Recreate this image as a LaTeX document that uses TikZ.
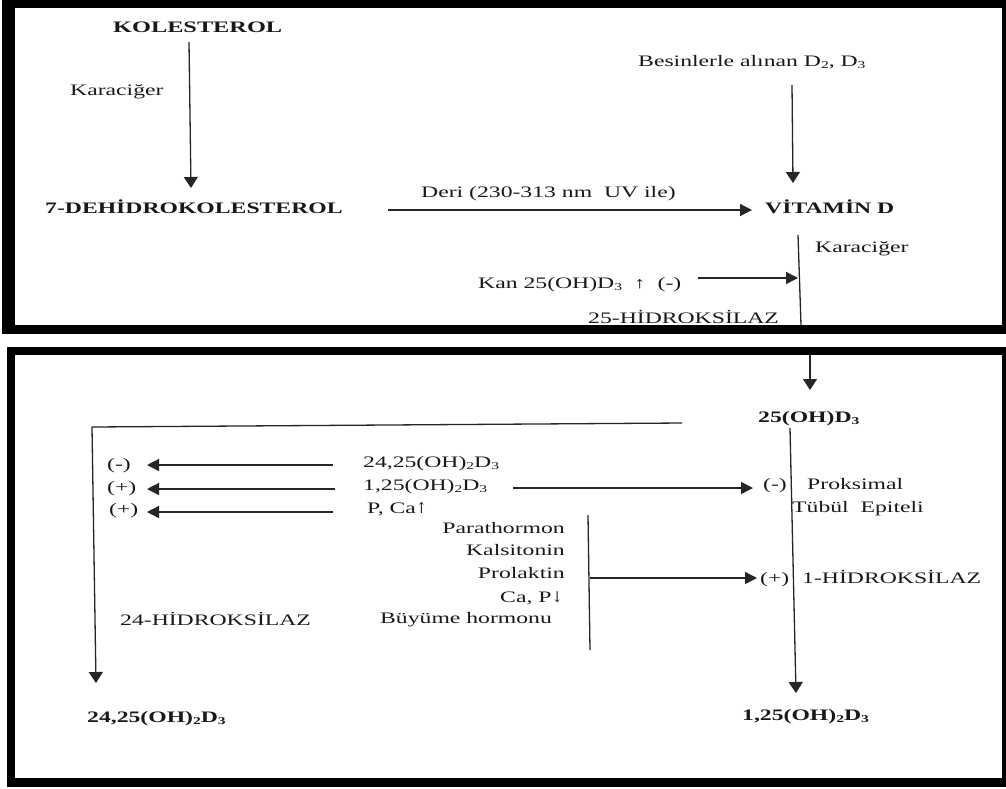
\documentclass[tikz,border=0pt]{standalone}
\usepackage{fontspec}
\setmainfont{Liberation Serif}
\newfontfamily\arrfont{DejaVu Serif}
\usetikzlibrary{arrows.meta}
\newcommand\hs[1]{\scalebox{1.48}[1]{#1}}
\newcommand\sbs[1]{\raisebox{-0.35ex}{\fontsize{10.5}{10.5}\selectfont #1}}
\newcommand\uparr{{\arrfont\fontsize{13}{13}\selectfont\scalebox{0.7}[1.15]{↑}}}
\newcommand\dnarr{{\arrfont\fontsize{13}{13}\selectfont\scalebox{0.7}[1.15]{↓}}}
\begin{document}
\begin{tikzpicture}[x=1pt,y=-1pt,
  lbl/.style={inner sep=0pt, anchor=base west, text=black!90, font=\fontsize{16}{18}\selectfont},
  lblr/.style={lbl, anchor=base east},
  bf/.style={font=\fontsize{16}{18}\selectfont\bfseries},
  ln/.style={line width=1.3pt, draw=black!85},
  arr/.style={ln, -{Triangle[length=12pt,width=12pt]}},
  varr/.style={ln, -{Triangle[length=11pt,width=14pt]}},
  framefill/.style={fill=black},
  inner/.style={fill=white}]
\useasboundingbox (0,0) rectangle (1006,788);
\fill[white] (0,0) rectangle (1006,788);
% frames
\fill[framefill] (2,0) rectangle (1006,334);
\fill[inner] (15,8) rectangle (1002,325);
\fill[framefill] (7,347) rectangle (1006,787);
\fill[inner] (15,355) rectangle (1002,778);

% ---------- top panel ----------
\node[lbl,bf] (kol) at (113,32) {\scalebox{1.52}[1]{KOLESTEROL}};
\node[lbl] (kar1) at (70,95) {\hs{Karaciğer}};
\node[lbl,bf] (dehi) at (45,213) {\hs{7-DEHİDROKOLESTEROL}};
\node[lbl] (deri) at (421,197) {\hs{Deri (230-313 nm\ \ UV ile)}};
\node[lbl] (bes) at (638,66) {\hs{Besinlerle alınan D\sbs{2}, D\sbs{3}}};
\node[lbl,bf] (vit) at (765,213) {\hs{VİTAMİN D}};
\node[lbl] (kar2) at (815,252) {\hs{Karaciğer}};
\node[lbl] (kan) at (478,288) {\hs{Kan 25(OH)D\sbs{3}\ \ ↑\ \ (-)}};
\node[lbl] (h25) at (588,323) {\hs{25-HİDROKSİLAZ}};

\coordinate (k1) at (189,42);  \coordinate (k2) at (191,188);
\coordinate (b1s) at (792,85); \coordinate (b1e) at (793,183);
\coordinate (d1) at (388,210); \coordinate (d2) at (752,210);
\coordinate (v1) at (798,235); \coordinate (v2) at (801,325);
\coordinate (kn1) at (698,278); \coordinate (kn2) at (798,278);

\draw[varr] (k1) -- (k2);
\draw[varr] (b1s) -- (b1e);
\draw[arr] (d1) -- (d2);
\draw[ln] (v1) -- (v2);
\draw[arr] (kn1) -- (kn2);

% ---------- bottom panel ----------
\node[lbl,bf] (oh25) at (758,422) {\hs{25(OH)D\sbs{3}}};
\node[lbl] (r1) at (363,467) {\hs{24,25(OH)\sbs{2}D\sbs{3}}};
\node[lbl] (r2) at (363,490) {\hs{1,25(OH)\sbs{2}D\sbs{3}}};
\node[lbl] (r3) at (367,513) {\hs{P, Ca\uparr}};
\node[lbl] (m1) at (107,469) {\hs{(-)}};
\node[lbl] (m2) at (107,492) {\hs{(+)}};
\node[lbl] (m3) at (109,514) {\hs{(+)}};
\node[lblr] (pth) at (565,533) {\hs{Parathormon}};
\node[lblr] (kal) at (565,555) {\hs{Kalsitonin}};
\node[lblr] (pro) at (565,578) {\hs{Prolaktin}};
\node[lblr] (cap) at (563,602) {\hs{Ca, P\dnarr}};
\node[lbl] (buy) at (380,623) {\hs{Büyüme hormonu}};
\node[lbl] (h24) at (120,625) {\hs{24-HİDROKSİLAZ}};
\node[lbl] (neg) at (763,489) {\hs{(-)}};
\node[lbl] (prok) at (807,489) {\hs{Proksimal}};
\node[lbl] (tub) at (792,512) {\hs{Tübül\ \ Epiteli}};
\node[lbl] (pos) at (760,583) {\hs{(+)}};
\node[lbl] (h1) at (802,583) {\hs{1-HİDROKSİLAZ}};
\node[lbl,bf] (bl) at (87,722) {\hs{24,25(OH)\sbs{2}D\sbs{3}}};
\node[lbl,bf] (br) at (742,720) {\hs{1,25(OH)\sbs{2}D\sbs{3}}};

\coordinate (t1) at (810,355); \coordinate (t2) at (810,390);
\coordinate (br1) at (682,423); \coordinate (br2) at (92,427); \coordinate (br3) at (96,683);
\coordinate (a1s) at (333,465); \coordinate (a1e) at (147,465);
\coordinate (a2s) at (335,489); \coordinate (a2e) at (147,489);
\coordinate (a3s) at (333,512); \coordinate (a3e) at (147,512);
\coordinate (c1) at (513,488); \coordinate (c2) at (753,488);
\coordinate (mv1) at (790,428); \coordinate (mv2) at (796,693);
\coordinate (hb1) at (588,515); \coordinate (hb2) at (590,650);
\coordinate (hc) at (590,578); \coordinate (hd) at (757,578);

\draw[varr] (t1) -- (t2);
\draw[varr] (br1) -- (br2) -- (br3);
\draw[arr] (a1s) -- (a1e);
\draw[arr] (a2s) -- (a2e);
\draw[arr] (a3s) -- (a3e);
\draw[arr] (c1) -- (c2);
\draw[varr] (mv1) -- (mv2);
\draw[ln] (hb1) -- (hb2);
\draw[arr] (hc) -- (hd);
\end{tikzpicture}
\end{document}
